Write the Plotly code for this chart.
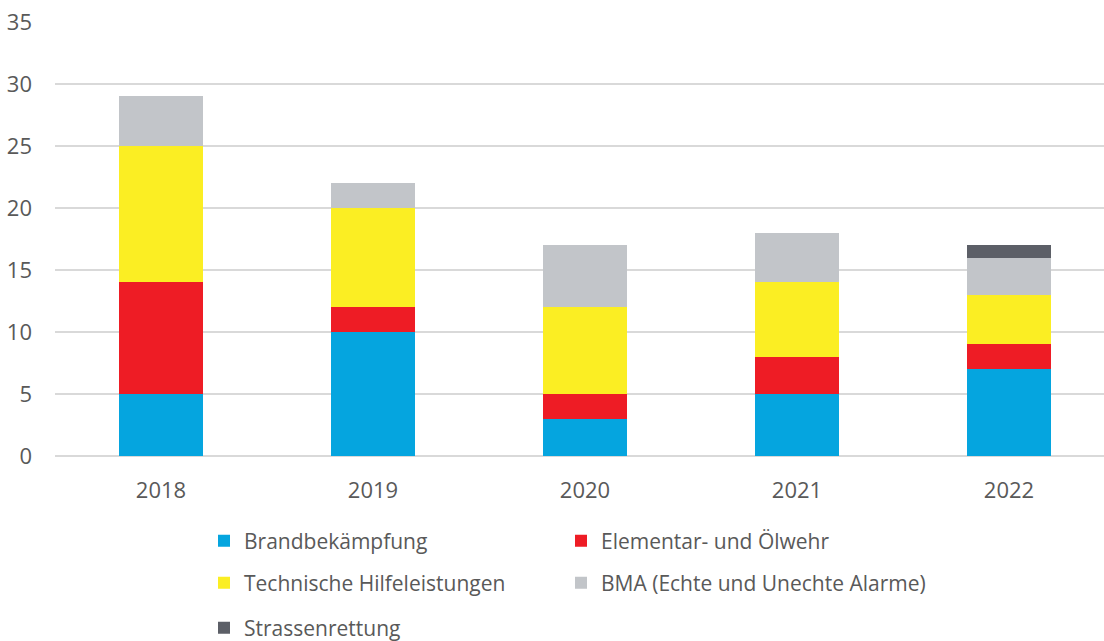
import plotly.graph_objects as go

years = ["2018", "2019", "2020", "2021", "2022"]
series_names = [
    "Brandbekämpfung",
    "Elementar- und Ölwehr",
    "Technische Hilfeleistungen",
    "BMA (Echte und Unechte Alarme)",
    "Strassenrettung",
]
brand = [5, 10, 3, 5, 7]
elementar = [9, 2, 2, 3, 2]
technische = [11, 8, 7, 6, 4]
bma = [4, 2, 5, 4, 3]
strassen = [0, 0, 0, 0, 1]
values = [brand, elementar, technische, bma, strassen]
colors = ["#05A5DF", "#EE1C25", "#FBEE23", "#C2C5C9", "#5C5F67"]
legends = ["legend", "legend2", "legend3", "legend4", "legend5"]
y_ticks = [0, 5, 10, 15, 20, 25, 30, 35]

FONT = "Open Sans"
TXT = "#595959"

fig = go.Figure()
for name, vals, col, lg in zip(series_names, values, colors, legends):
    fig.add_trace(go.Bar(
        x=years, y=vals, name=name, marker=dict(color=col, line=dict(width=0)),
        width=0.40, legend=lg,
    ))

W, H = 1104, 641
ml, mr, mt, mb = 55, 0, 22, 185
pw = W - ml - mr
ph = H - mt - mb

def px_x(p):
    return (p - ml) / pw

def px_y(p):
    return (H - mb - p) / ph

leg_common = dict(
    orientation="h", xanchor="left", yanchor="middle",
    font=dict(family=FONT, size=21, color=TXT),
    bgcolor="rgba(0,0,0,0)", traceorder="normal",
    itemclick=False, itemdoubleclick=False,
)

col1, col2 = 204, 561
row1, row2, row3 = 541, 583, 628

fig.update_layout(
    width=W, height=H,
    margin=dict(l=ml, r=mr, t=mt, b=mb, autoexpand=False),
    plot_bgcolor="white", paper_bgcolor="white",
    barmode="stack",
    font=dict(family=FONT, size=21, color=TXT),
    xaxis=dict(range=[-0.5, -0.5 + pw / 212], showgrid=False, showline=False,
               ticks="", ticklabelstandoff=19,
               tickfont=dict(family=FONT, size=22, color=TXT)),
    yaxis=dict(range=[0, 35], tickvals=y_ticks, showgrid=True, gridcolor="#D9D9D9",
               gridwidth=1.5, zeroline=True, zerolinecolor="#D9D9D9", zerolinewidth=1.5,
               showline=False, ticks="", ticklabelstandoff=22,
               tickfont=dict(family=FONT, size=22, color=TXT)),
    showlegend=True,
    legend=dict(x=px_x(col1), y=px_y(row1), **leg_common),
    legend2=dict(x=px_x(col2), y=px_y(row1), **leg_common),
    legend3=dict(x=px_x(col1), y=px_y(row2), **leg_common),
    legend4=dict(x=px_x(col2), y=px_y(row2), **leg_common),
    legend5=dict(x=px_x(col1), y=px_y(row3), **leg_common),
)

fig.write_html(
    "out.html",
    config={"displayModeBar": False},
    post_script="document.body.style.margin='0';document.body.style.overflow='hidden';",
)
